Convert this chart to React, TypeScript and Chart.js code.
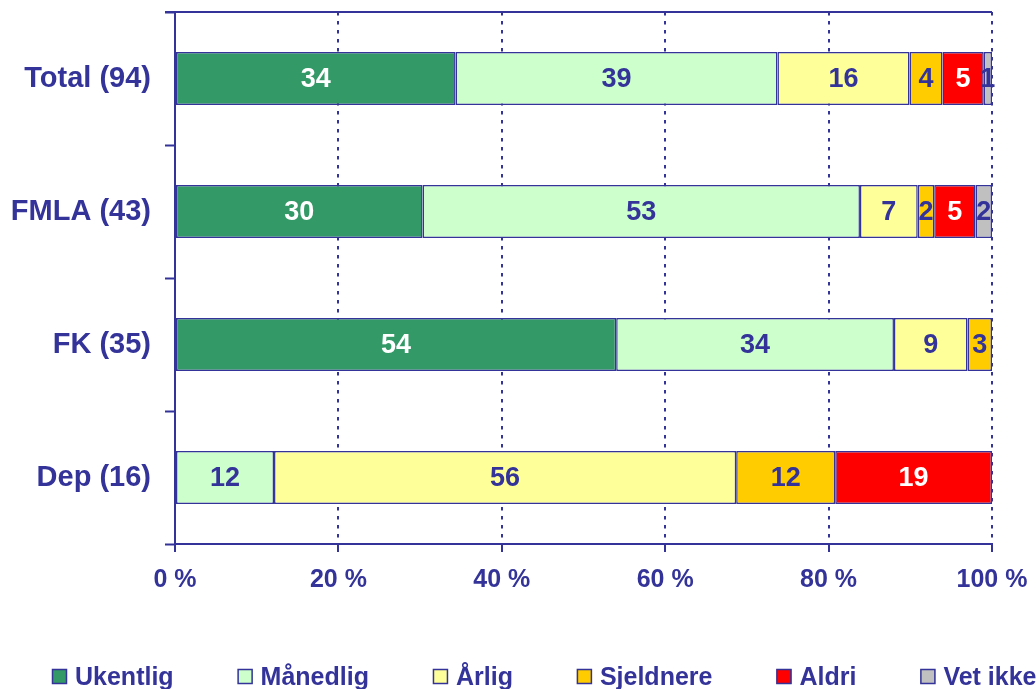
import React, { useEffect, useRef } from "react";
import { Chart, registerables } from "chart.js";

Chart.register(...registerables);

// ---- Data (percent values as printed on the bars; each row is shown as 100 % stacked) ----
const categories = ["Total (94)", "FMLA (43)", "FK (35)", "Dep (16)"];
const seriesNames = ["Ukentlig", "Månedlig", "Årlig", "Sjeldnere", "Aldri", "Vet ikke"];
const ukentlig = [34, 30, 54, null];
const maanedlig = [39, 53, 34, 12];
const aarlig = [16, 7, 9, 56];
const sjeldnere = [4, 2, 3, 12];
const aldri = [5, 5, null, 19];
const vetIkke = [1, 2, null, null];
const xTickValues = [0, 20, 40, 60, 80, 100];

const seriesValues = [ukentlig, maanedlig, aarlig, sjeldnere, aldri, vetIkke];
const seriesColors = ["#339966", "#CCFFCC", "#FFFF99", "#FFCC00", "#FF0000", "#C0C0C0"];
const labelColors = ["#FFFFFF", "#333399", "#333399", "#333399", "#FFFFFF", "#333399"];

const BLUE = "#333399";
const FONT = "'Liberation Sans', Arial, sans-serif";

const rowTotals = categories.map((_, i) =>
  seriesValues.reduce((s, arr) => s + (arr[i] ?? 0), 0)
);

const barLabelPlugin = {
  id: "barLabels",
  afterDatasetsDraw(chart: any) {
    const ctx = chart.ctx;
    ctx.save();
    ctx.font = `bold 27px ${FONT}`;
    ctx.textAlign = "center";
    ctx.textBaseline = "middle";
    chart.data.datasets.forEach((ds: any, di: number) => {
      const meta = chart.getDatasetMeta(di);
      meta.data.forEach((bar: any, i: number) => {
        const raw = seriesValues[di][i];
        if (raw == null) return;
        const cx = (bar.x + bar.base) / 2;
        ctx.fillStyle = labelColors[di];
        ctx.fillText(String(raw), cx, bar.y + 1);
      });
    });
    ctx.restore();
  },
};

const framePlugin = {
  id: "frameTop",
  afterDraw(chart: any) {
    const { ctx, chartArea } = chart;
    ctx.save();
    ctx.strokeStyle = BLUE;
    ctx.lineWidth = 2;
    ctx.beginPath();
    ctx.moveTo(chartArea.left - 10, chartArea.top);
    ctx.lineTo(chartArea.right, chartArea.top);
    ctx.stroke();
    ctx.restore();
  },
};

const legendPlugin = {
  id: "customLegend",
  afterDraw(chart: any) {
    const ctx = chart.ctx;
    ctx.save();
    ctx.font = `bold 25px ${FONT}`;
    ctx.textBaseline = "alphabetic";
    ctx.textAlign = "left";
    let x = 52;
    const boxTop = 669;
    const box = 15;
    const baseline = 685;
    seriesNames.forEach((name, i) => {
      ctx.fillStyle = seriesColors[i];
      ctx.fillRect(x, boxTop, box, box);
      ctx.strokeStyle = BLUE;
      ctx.lineWidth = 1.5;
      ctx.strokeRect(x + 0.5, boxTop + 0.5, box - 1, box - 1);
      ctx.fillStyle = BLUE;
      ctx.fillText(name, x + 23, baseline);
      x += 23 + ctx.measureText(name).width + 64;
    });
    ctx.restore();
  },
};

export default function App() {
  const ref = useRef<HTMLCanvasElement | null>(null);

  useEffect(() => {
    if (!ref.current) return;
    const chart = new Chart(ref.current, {
      type: "bar",
      data: {
        labels: categories,
        datasets: seriesNames.map((name, di) => ({
          label: name,
          data: seriesValues[di].map((v, i) => (v == null ? null : (v / rowTotals[i]) * 100)),
          backgroundColor: seriesColors[di],
          borderColor: BLUE,
          borderWidth: 1.5,
          borderSkipped: false,
          categoryPercentage: 1,
          barPercentage: 0.4,
        })),
      },
      options: {
        indexAxis: "y",
        responsive: false,
        animation: false,
        layout: { padding: { top: 12, right: 44, left: 0, bottom: 0 } },
        plugins: {
          legend: { display: false },
          tooltip: { enabled: false },
        },
        scales: {
          x: {
            stacked: true,
            min: 0,
            max: 100,
            afterBuildTicks(scale: any) {
              scale.ticks = xTickValues.map((v) => ({ value: v }));
            },
            afterFit(scale: any) {
              scale.height = 145;
              scale.paddingLeft = 0;
              scale.paddingRight = 0;
            },
            ticks: {
              color: BLUE,
              font: { family: FONT, size: 25, weight: "bold" },
              padding: 13,
              maxRotation: 0,
              callback: (v: any) => `${v} %`,
            },
            grid: {
              color: BLUE,
              lineWidth: 2,
              tickColor: BLUE,
              tickLength: 8,
              tickWidth: 2,
              tickBorderDash: [],
            },
            border: { display: true, color: BLUE, width: 2, dash: [3.5, 5.5] },
          },
          y: {
            stacked: true,
            afterFit(scale: any) {
              scale.width = 175;
              scale.paddingTop = 0;
              scale.paddingBottom = 0;
            },
            ticks: {
              color: BLUE,
              font: { family: FONT, size: 29, weight: "bold" },
              padding: 14,
            },
            grid: {
              offset: true,
              drawOnChartArea: false,
              color: BLUE,
              tickColor: BLUE,
              tickLength: 10,
              tickWidth: 2,
            },
            border: { display: true, color: BLUE, width: 2 },
          },
        },
      },
      plugins: [barLabelPlugin, framePlugin, legendPlugin],
    } as any);
    return () => chart.destroy();
  }, []);

  return (
    <div style={{ position: "fixed", left: 0, top: 0, width: 1036, height: 689, background: "#fff" }}>
      <canvas ref={ref} width={1036} height={689} style={{ width: 1036, height: 689 }} />
    </div>
  );
}
